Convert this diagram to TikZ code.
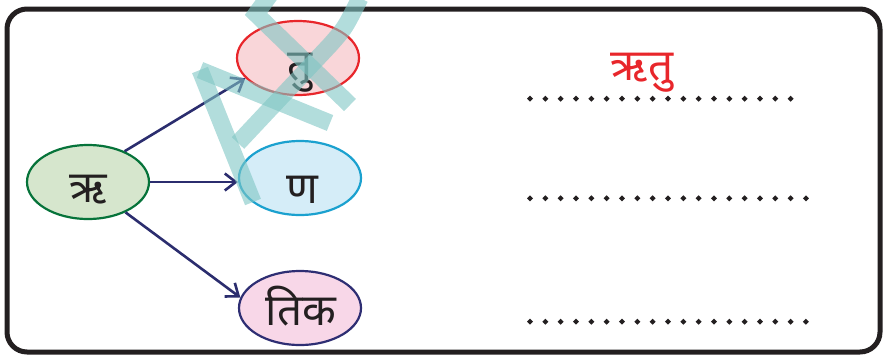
\documentclass[tikz,border=0pt]{standalone}
\usepackage{fontspec}
\newfontfamily\deva[Script=Devanagari]{Noto Sans}
\usetikzlibrary{shapes.geometric,arrows.meta}
\definecolor{inkc}{HTML}{231F20}
\definecolor{navy}{HTML}{2B2D6E}
\definecolor{grfill}{HTML}{D6E6CD}
\definecolor{grline}{HTML}{06733A}
\definecolor{rdfill}{HTML}{F9D6D9}
\definecolor{rdline}{HTML}{E8262B}
\definecolor{cyfill}{HTML}{D5EDF8}
\definecolor{cyline}{HTML}{1BA1CF}
\definecolor{pkfill}{HTML}{F8D7E8}
\definecolor{pkline}{HTML}{2E2E73}
\definecolor{wmark}{HTML}{7FC6C4}
\tikzset{
  ell/.style={ellipse, minimum width=122pt, minimum height=74pt, inner sep=0pt, line width=2.2pt},
  dtxt/.style={anchor=base, inner sep=0pt, font=\deva\bfseries\fontsize{44}{44}\selectfont, text=inkc},
  conn/.style={draw=navy, line width=2.6pt, -{Straight Barb[length=11pt,width=17pt,line width=2.6pt]}},
  wm/.style={draw=wmark, line width=17pt, opacity=0.6}
}
\begin{document}
\begin{tikzpicture}[x=1pt,y=-1pt]
\useasboundingbox (0,0) rectangle (883,357);
\draw[inkc, line width=5pt, rounded corners=20pt] (7,9) rectangle (880,352);

\node[ell, fill=grfill, draw=grline] (ri) at (88,182) {};
\node[ell, fill=rdfill, draw=rdline] (tu) at (298,58) {};
\node[ell, fill=cyfill, draw=cyline] (na) at (300,178) {};
\node[ell, fill=pkfill, draw=pkline] (tik) at (300,308) {};

\node[dtxt] (riT) at (88,202) {ऋ};
\node[dtxt] (tuT) at (300,80) {तु};
\node[dtxt] (naT) at (302,203) {ण};
\node[dtxt] (tikT) at (301,325) {तिक};

\draw[conn] (ri.40) -- (tu.201);
\draw[conn] (ri.east) -- (na.west |- ri.east);
\draw[conn] (ri.-39) -- (tik.170);

\node[dtxt, text=rdline] (ans) at (642,80) {ऋतु};

\foreach \yy/\nn in {98.7/17, 198.3/18, 321.7/18}{
  \foreach \i in {0,...,\nn}{
    \fill[inkc] ({530+15.33*\i},\yy) +(0,-3) -- +(3,0) -- +(0,3) -- +(-3,0) -- cycle;
  }
}

% watermark
\draw[wm] (200,70) -- (253,202);
\draw[wm] (200,70) -- (330,123);
\draw[wm] (238,143) -- (330,45) .. controls (345,28) .. (360,-2);
\draw[wm] (272,-8) -- (256,14) -- (350,105);
\end{tikzpicture}
\end{document}
